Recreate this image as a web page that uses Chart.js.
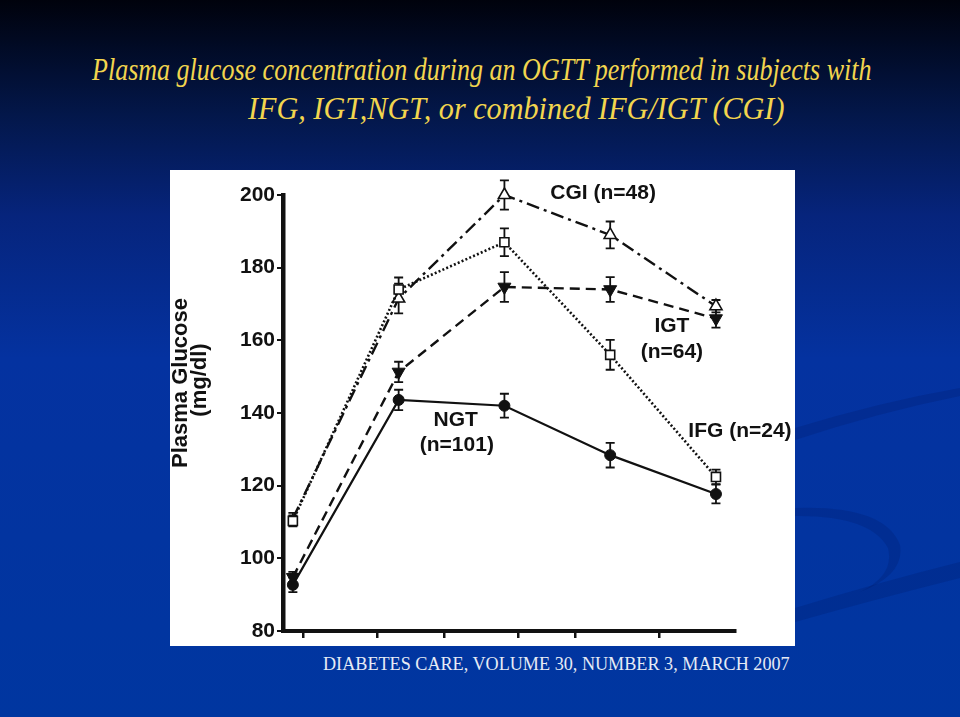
<!DOCTYPE html>
<html>
<head>
<meta charset="utf-8">
<script src="https://cdn.jsdelivr.net/npm/chart.js@4.4.1/dist/chart.umd.min.js"></script>
<style>
  html, body { margin: 0; padding: 0; }
  body {
    width: 960px; height: 717px; position: relative; overflow: hidden;
    background: linear-gradient(180deg, #00020c 0%, #03174a 16%, #06247c 30%, #0432a0 50%, #0036a0 100%);
  }
  .t { position: absolute; white-space: nowrap; transform-origin: left top; }
  .title { font-family: "Liberation Serif", serif; font-style: italic; font-size: 31px; line-height: 31px; color: #f2d54e; }
  .foot { font-family: "Liberation Serif", serif; font-size: 19px; line-height: 19px; color: #e6ebf5; }
  #panel { position: absolute; left: 170px; top: 170px; width: 625px; height: 476px; background: #ffffff; }
  #swoosh { position: absolute; left: 0; top: 0; }
</style>
</head>
<body>
<svg id="swoosh" width="960" height="717">
  <path d="M 795 428 Q 880 402 960 388 L 960 396 Q 880 412 795 440 Z" fill="rgba(0,25,95,0.22)"/>
  <path d="M 795 508 Q 885 505 900 545 Q 905 575 860 592 Q 895 575 888 548 Q 870 515 795 516 Z" fill="rgba(0,25,95,0.22)"/>
  <path d="M 795 608 Q 880 582 960 562 L 960 578 Q 880 598 795 622 Z" fill="rgba(0,25,95,0.22)"/>
</svg>
<div class="t title" id="t1" data-left="92" data-right="872" style="top:54px">Plasma glucose concentration during an OGTT performed in subjects with</div>
<div class="t title" id="t2" data-left="248" data-right="785" style="top:93px">IFG, IGT,NGT, or combined IFG/IGT (CGI)</div>
<div id="panel"><canvas id="c" width="625" height="476"></canvas></div>
<div class="t foot" id="f1" data-left="323" data-right="790" style="top:654px">DIABETES CARE, VOLUME 30, NUMBER 3, MARCH 2007</div>
<script>
// ---- data ----
const times = [0, 30, 60, 90, 120];
const ngt = [92.7, 143.6, 142, 128.4, 117.7];
const igt = [94.8, 151.3, 174.7, 174, 166];
const ifg = [110.3, 174, 187, 156, 122.4];
const cgi = [111, 171.5, 200, 189, 169.4];
const ngtErr = [2, 2.8, 3.3, 3.4, 2.6];
const igtErr = [1.5, 2.8, 4.1, 3.4, 2.5];
const ifgErr = [1.5, 3.3, 3.8, 4.1, 2];
const cgiErr = [1.5, 4.1, 4, 3.7, 1.7];
const yTicks = [80, 100, 120, 140, 160, 180, 200];
const xTickMarks = [3, 24, 43, 64, 80, 104];
const annoText = ["CGI (n=48)", "IGT", "(n=64)", "NGT", "(n=101)", "IFG (n=24)"];
const annoX = [88, 107.5, 107.5, 46.2, 46.5, 126.8];
const annoY = [200.5, 164, 156.8, 138, 131.2, 135];

// ---- fit text lines ----
(function fit() {
  const m = document.createElement('canvas').getContext('2d');
  document.querySelectorAll('.t').forEach(el => {
    const cs = getComputedStyle(el);
    m.font = cs.fontStyle + ' ' + cs.fontSize + ' ' + cs.fontFamily;
    const w = m.measureText(el.textContent).width;
    const L = +el.dataset.left, R = +el.dataset.right;
    el.style.left = L + 'px';
    el.style.transform = 'scaleX(' + ((R - L) / w) + ')';
  });
})();

function pts(vals) { return times.map((t, i) => ({ x: t, y: vals[i] })); }

const errorBars = {
  id: 'errorBars',
  beforeDatasetsDraw(chart) {
    const ctx = chart.ctx, xs = chart.scales.x, ys = chart.scales.y;
    const sets = [[cgi, cgiErr], [ifg, ifgErr], [igt, igtErr], [ngt, ngtErr]];
    ctx.save();
    ctx.strokeStyle = '#111';
    ctx.lineWidth = 1.8;
    sets.forEach(([v, e]) => {
      times.forEach((t, i) => {
        const x = xs.getPixelForValue(t);
        const y1 = ys.getPixelForValue(v[i] + e[i]);
        const y2 = ys.getPixelForValue(v[i] - e[i]);
        ctx.beginPath();
        ctx.moveTo(x, y1); ctx.lineTo(x, y2);
        ctx.moveTo(x - 4.5, y1); ctx.lineTo(x + 4.5, y1);
        ctx.moveTo(x - 4.5, y2); ctx.lineTo(x + 4.5, y2);
        ctx.stroke();
      });
    });
    ctx.restore();
  }
};

const texts = {
  id: 'texts',
  afterDraw(chart) {
    const ctx = chart.ctx, xs = chart.scales.x, ys = chart.scales.y, ca = chart.chartArea;
    ctx.save();
    ctx.fillStyle = '#111';
    ctx.font = 'bold 21px "Liberation Sans", Arial, sans-serif';
    ctx.textAlign = 'center';
    ctx.textBaseline = 'middle';
    annoText.forEach((s, i) => {
      ctx.fillText(s, xs.getPixelForValue(annoX[i]), ys.getPixelForValue(annoY[i]));
    });
    // y axis title
    ctx.font = 'bold 22px "Liberation Sans", Arial, sans-serif';
    ctx.textBaseline = 'alphabetic';
    const cy = (ca.top + ca.bottom) / 2 - 30;
    ctx.translate(ca.left - 96, cy);
    ctx.rotate(-Math.PI / 2);
    ctx.fillText('Plasma Glucose', 0, 0);
    ctx.fillText('(mg/dl)', 3, 19);
    ctx.restore();
  }
};

const common = { borderColor: '#111', pointBorderColor: '#111', tension: 0, clip: false, borderCapStyle: 'butt' };

new Chart(document.getElementById('c'), {
  type: 'line',
  data: {
    datasets: [
      Object.assign({}, common, { label: 'IFG', data: pts(ifg), borderWidth: 2.6, borderDash: [2, 2.2],
        pointStyle: 'rect', pointRadius: 6.4, pointBackgroundColor: '#fff', pointBorderWidth: 1.6 }),
      Object.assign({}, common, { label: 'CGI', data: pts(cgi), borderWidth: 2.4, borderDash: [13, 5, 3, 5],
        pointStyle: 'triangle', pointRadius: [0, 7, 7, 7, 7], pointBackgroundColor: '#fff', pointBorderWidth: 1.6 }),
      Object.assign({}, common, { label: 'IGT', data: pts(igt), borderWidth: 2.4, borderDash: [10, 6],
        pointStyle: 'triangle', pointRotation: 180, pointRadius: 7.5, pointBackgroundColor: '#111', pointBorderWidth: 1 }),
      Object.assign({}, common, { label: 'NGT', data: pts(ngt), borderWidth: 2.2,
        pointStyle: 'circle', pointRadius: 5.5, pointBackgroundColor: '#111', pointBorderWidth: 1 })
    ]
  },
  options: {
    responsive: false,
    animation: false,
    devicePixelRatio: 1,
    layout: { padding: { left: 0, top: 25, right: 60, bottom: 0 } },
    plugins: { legend: { display: false }, tooltip: { enabled: false }, title: { display: false } },
    scales: {
      x: {
        type: 'linear', min: -2.8, max: 125.4,
        afterBuildTicks(s) { s.ticks = xTickMarks.map(v => ({ value: v })); },
        afterFit(s) { s.height = 15; },
        ticks: { display: false },
        grid: { drawOnChartArea: false, drawTicks: true, tickLength: 7, color: '#111', lineWidth: 2.5 },
        border: { display: true, color: '#111', width: 4 }
      },
      y: {
        type: 'linear', min: 80, max: 200,
        afterBuildTicks(s) { s.ticks = yTicks.map(v => ({ value: v })); },
        afterFit(s) { s.width = 113; },
        ticks: { color: '#111', padding: 2, font: { family: '"Liberation Sans", Arial, sans-serif', size: 21, weight: 'bold' } },
        grid: { drawOnChartArea: false, drawTicks: true, tickLength: 6, color: '#111', lineWidth: 2 },
        border: { display: true, color: '#111', width: 4.5 }
      }
    }
  },
  plugins: [errorBars, texts]
});
</script>
</body>
</html>
